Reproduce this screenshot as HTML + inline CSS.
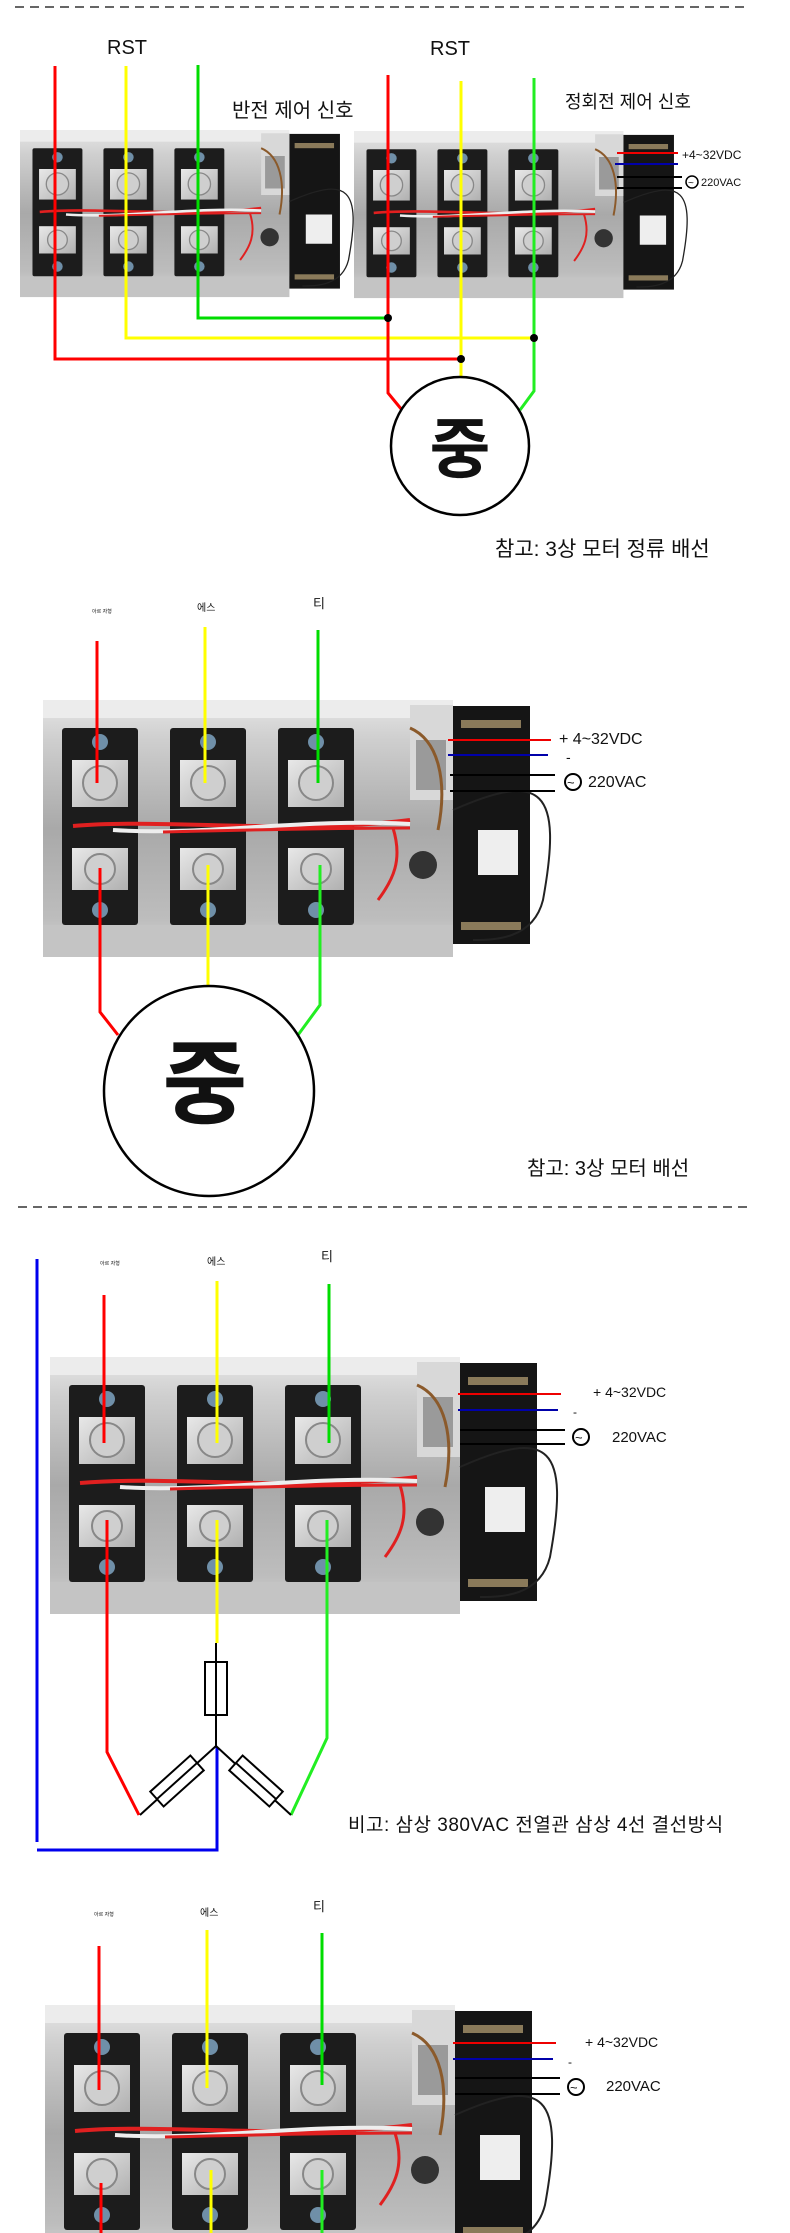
<!DOCTYPE html>
<html><head><meta charset="utf-8"><style>
html,body{margin:0;padding:0;background:#fff;}
svg{display:block;}
text{font-family:"Liberation Sans","Noto Sans CJK KR",sans-serif;fill:#111;}
</style></head><body>
<svg width="790" height="2233" viewBox="0 0 790 2233" xmlns="http://www.w3.org/2000/svg">
<defs>
<linearGradient id="hs" x1="0" y1="0" x2="0" y2="1">
<stop offset="0" stop-color="#e6e6e6"/><stop offset="0.15" stop-color="#cfcfcf"/><stop offset="0.5" stop-color="#a9a9a9"/><stop offset="0.85" stop-color="#bdbdbd"/><stop offset="1" stop-color="#d6d6d6"/>
</linearGradient>
<linearGradient id="sq" x1="0" y1="0" x2="1" y2="1">
<stop offset="0" stop-color="#e8e8e8"/><stop offset="1" stop-color="#b0b0b0"/>
</linearGradient>
<g id="asm">
<rect x="0" y="0" width="410" height="257" fill="url(#hs)"/>
<rect x="0" y="0" width="410" height="18" fill="#ececec"/>
<rect x="0" y="225" width="410" height="32" fill="#c4c4c4"/>
<g id="mod">
<rect x="19" y="28" width="76" height="197" rx="3" fill="#1c1c1c"/>
<circle cx="57" cy="42" r="8" fill="#6f8fa8"/>
<rect x="29" y="60" width="56" height="47" fill="url(#sq)"/>
<circle cx="57" cy="83" r="17" fill="#cfcfcf" stroke="#888" stroke-width="2"/>
<rect x="29" y="148" width="56" height="42" fill="url(#sq)"/>
<circle cx="57" cy="169" r="15" fill="#cfcfcf" stroke="#888" stroke-width="2"/>
<circle cx="57" cy="210" r="8" fill="#6f8fa8"/>
</g>
<use href="#mod" x="108"/>
<use href="#mod" x="216"/>
<path d="M30 126 C120 118 250 135 367 120" stroke="#e02020" stroke-width="4" fill="none"/>
<path d="M70 130 C160 136 260 118 367 124" stroke="#eeeeee" stroke-width="4" fill="none"/>
<path d="M120 132 C200 130 300 128 367 128" stroke="#e02020" stroke-width="3" fill="none"/>
<rect x="410" y="6" width="77" height="238" fill="#151515"/>
<rect x="418" y="20" width="60" height="8" fill="#8a7a5a"/>
<rect x="418" y="222" width="60" height="8" fill="#8a7a5a"/>
<rect x="367" y="5" width="43" height="95" fill="#d8d8d8"/>
<rect x="373" y="40" width="30" height="50" fill="#9a9a9a"/>
<path d="M367 28 C395 40 405 80 395 130" stroke="#8b5a2b" stroke-width="3" fill="none"/>
<path d="M410 110 C500 70 520 90 500 200 C490 240 450 240 430 240" stroke="#222" stroke-width="2" fill="none"/>
<path d="M350 128 C360 160 350 180 335 200" stroke="#e02020" stroke-width="3" fill="none"/>
<rect x="435" y="130" width="40" height="45" fill="#eee"/>
<circle cx="380" cy="165" r="14" fill="#333"/>
</g>
</defs>

<!-- Section 1 -->
<line x1="15" y1="7" x2="745" y2="7" stroke="#333" stroke-width="1.5" stroke-dasharray="9,6"/>
<text x="107" y="54" font-size="20">RST</text>
<text x="430" y="55" font-size="20">RST</text>
<text x="232" y="117" font-size="20">반전 제어 신호</text>
<text x="565" y="108" font-size="18">정회전 제어 신호</text>
<g transform="translate(20,130) scale(0.657,0.65)"><use href="#asm"/></g>
<g transform="translate(354,131) scale(0.657,0.65)"><use href="#asm"/></g>
<line x1="617" y1="153" x2="678" y2="153" stroke="#e00" stroke-width="2"/>
<line x1="615" y1="164" x2="678" y2="164" stroke="#00a" stroke-width="2"/>
<line x1="617" y1="177" x2="682" y2="177" stroke="#000" stroke-width="2"/>
<line x1="617" y1="188" x2="682" y2="188" stroke="#000" stroke-width="2"/>
<text x="682" y="159" font-size="12">+4~32VDC</text>
<circle cx="692" cy="182" r="6" fill="none" stroke="#000" stroke-width="1.5"/><text x="688" y="186" font-size="10">~</text>
<text x="701" y="186" font-size="11">220VAC</text>
<g fill="none" stroke-width="3">
<polyline points="55,66 55,359 461,359" stroke="#f00"/>
<polyline points="126,66 126,338 534,338" stroke="#ff0"/>
<polyline points="198,65 198,318 388,318" stroke="#0d0"/>
<polyline points="388,75 388,393 402,410" stroke="#f00"/>
<polyline points="461,81 461,377" stroke="#ff0"/>
<polyline points="534,78 534,391 520,410" stroke="#2e2"/>
</g>
<circle cx="388" cy="318" r="4" fill="#000"/>
<circle cx="534" cy="338" r="4" fill="#000"/>
<circle cx="461" cy="359" r="4" fill="#000"/>
<ellipse cx="460" cy="446" rx="69" ry="69" fill="none" stroke="#000" stroke-width="2.5"/>
<text x="460" y="472" font-size="66" text-anchor="middle" font-weight="bold">중</text>
<text x="495" y="556" font-size="21">참고: 3상 모터 정류 배선</text>

<!-- Section 2 -->
<text x="92" y="613" font-size="5">아르 자형</text>
<text x="197" y="611" font-size="10">에스</text>
<text x="313" y="608" font-size="13">티</text>
<g transform="translate(43,700)"><use href="#asm"/></g>
<line x1="448" y1="740" x2="551" y2="740" stroke="#e00" stroke-width="2"/>
<line x1="448" y1="755" x2="548" y2="755" stroke="#00a" stroke-width="2"/>
<line x1="450" y1="775" x2="555" y2="775" stroke="#000" stroke-width="2"/>
<line x1="450" y1="791" x2="555" y2="791" stroke="#000" stroke-width="2"/>
<text x="559" y="744" font-size="16">+ 4~32VDC</text>
<text x="566" y="762" font-size="14">-</text>
<circle cx="573" cy="782" r="8" fill="none" stroke="#000" stroke-width="2"/><text x="567" y="787" font-size="13">~</text>
<text x="588" y="787" font-size="16">220VAC</text>
<g fill="none" stroke-width="3">
<polyline points="97,641 97,783" stroke="#f00"/>
<polyline points="205,627 205,783" stroke="#ff0"/>
<polyline points="318,630 318,783" stroke="#0d0"/>
<polyline points="100,868 100,1012 118,1035" stroke="#f00"/>
<polyline points="208,865 208,986" stroke="#ff0"/>
<polyline points="320,865 320,1005 298,1035" stroke="#2e2"/>
</g>
<ellipse cx="209" cy="1091" rx="105" ry="105" fill="none" stroke="#000" stroke-width="2.5"/>
<text x="205" y="1116" font-size="92" text-anchor="middle" font-weight="bold">중</text>
<text x="527" y="1175" font-size="20">참고: 3상 모터 배선</text>
<line x1="18" y1="1207" x2="748" y2="1207" stroke="#333" stroke-width="1.5" stroke-dasharray="9,6"/>

<!-- Section 3 -->
<text x="100" y="1265" font-size="5">아르 자형</text>
<text x="207" y="1265" font-size="10">에스</text>
<text x="321" y="1261" font-size="13">티</text>
<g transform="translate(50,1357)"><use href="#asm"/></g>
<line x1="458" y1="1394" x2="561" y2="1394" stroke="#e00" stroke-width="2"/>
<line x1="458" y1="1410" x2="558" y2="1410" stroke="#00a" stroke-width="2"/>
<line x1="460" y1="1430" x2="565" y2="1430" stroke="#000" stroke-width="2"/>
<line x1="460" y1="1444" x2="565" y2="1444" stroke="#000" stroke-width="2"/>
<text x="593" y="1397" font-size="14">+ 4~32VDC</text>
<text x="573" y="1416" font-size="12">-</text>
<circle cx="581" cy="1437" r="8" fill="none" stroke="#000" stroke-width="2"/><text x="575" y="1442" font-size="13">~</text>
<text x="612" y="1442" font-size="15">220VAC</text>
<g fill="none" stroke-width="3">
<polyline points="37,1259 37,1842" stroke="#00e"/>
<polyline points="37,1850 217,1850 217,1747" stroke="#00e"/>
<polyline points="104,1295 104,1443" stroke="#f00"/>
<polyline points="217,1281 217,1443" stroke="#ff0"/>
<polyline points="329,1284 329,1443" stroke="#0d0"/>
<polyline points="107,1520 107,1752 139,1815" stroke="#f00"/>
<polyline points="217,1520 217,1643" stroke="#ff0"/>
<polyline points="327,1520 327,1738 291,1815" stroke="#2e2"/>
</g>
<g stroke="#000" stroke-width="2" fill="none">
<line x1="216" y1="1643" x2="216" y2="1746"/>
<rect x="205" y="1662" width="22" height="53" fill="#fff"/>
<line x1="216" y1="1662" x2="216" y2="1715"/>
<line x1="216" y1="1746" x2="140" y2="1815"/>
<line x1="216" y1="1746" x2="291" y2="1815"/>
<g transform="translate(177,1781) rotate(-42)"><rect x="-27" y="-10" width="54" height="20" fill="#fff"/><line x1="-27" y1="0" x2="27" y2="0"/></g>
<g transform="translate(256,1781) rotate(42)"><rect x="-27" y="-10" width="54" height="20" fill="#fff"/><line x1="-27" y1="0" x2="27" y2="0"/></g>
</g>
<text x="348" y="1831" font-size="19" letter-spacing="0.5">비고: 삼상 380VAC 전열관 삼상 4선 결선방식</text>

<!-- Section 4 -->
<text x="94" y="1916" font-size="5">아르 자형</text>
<text x="200" y="1916" font-size="10">에스</text>
<text x="313" y="1911" font-size="13">티</text>
<g transform="translate(45,2005)"><use href="#asm"/></g>
<line x1="453" y1="2043" x2="556" y2="2043" stroke="#e00" stroke-width="2"/>
<line x1="453" y1="2059" x2="553" y2="2059" stroke="#00a" stroke-width="2"/>
<line x1="455" y1="2078" x2="560" y2="2078" stroke="#000" stroke-width="2"/>
<line x1="455" y1="2094" x2="560" y2="2094" stroke="#000" stroke-width="2"/>
<text x="585" y="2047" font-size="14">+ 4~32VDC</text>
<text x="568" y="2066" font-size="12">-</text>
<circle cx="576" cy="2087" r="8" fill="none" stroke="#000" stroke-width="2"/><text x="570" y="2092" font-size="13">~</text>
<text x="606" y="2091" font-size="15">220VAC</text>
<g fill="none" stroke-width="3">
<polyline points="99,1946 99,2090" stroke="#f00"/>
<polyline points="207,1930 207,2088" stroke="#ff0"/>
<polyline points="322,1933 322,2085" stroke="#0d0"/>
<polyline points="101,2183 101,2233" stroke="#f00"/>
<polyline points="211,2170 211,2233" stroke="#ff0"/>
<polyline points="322,2170 322,2233" stroke="#2e2"/>
</g>
</svg>
</body></html>
